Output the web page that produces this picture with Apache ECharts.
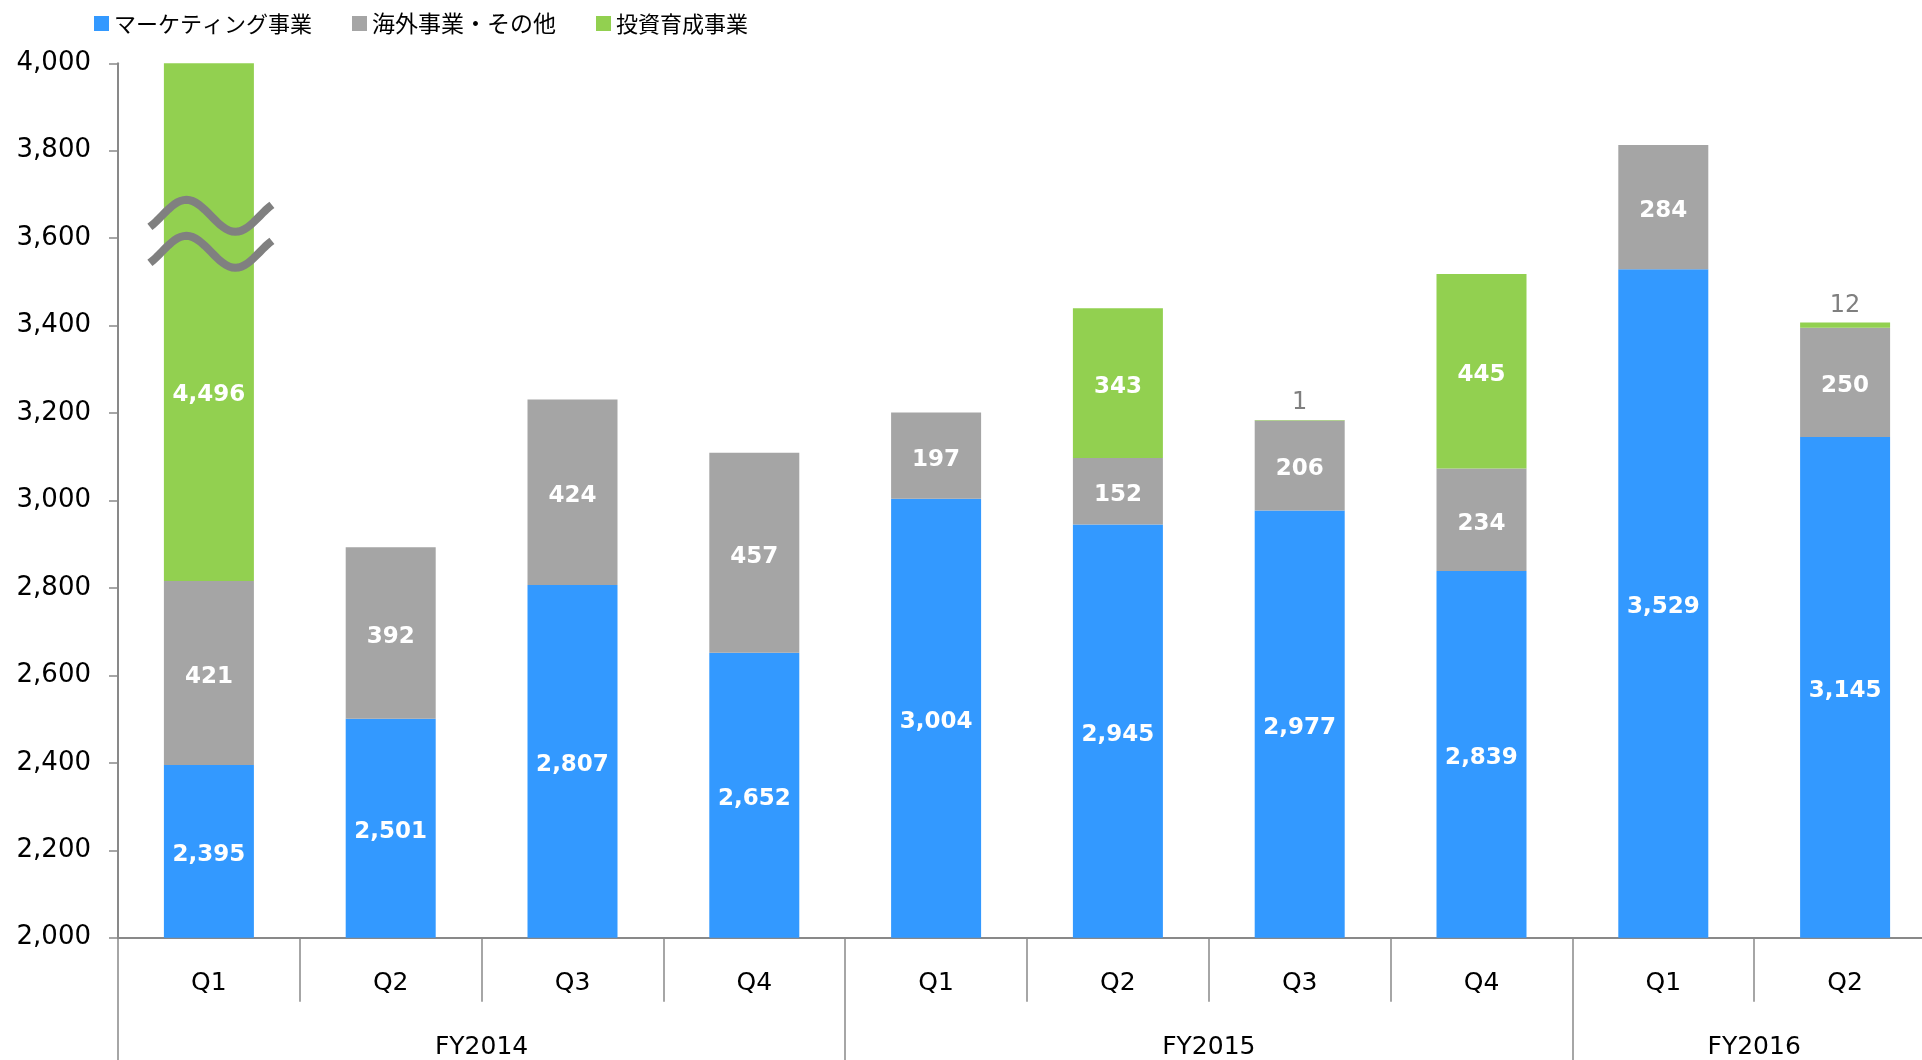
<!DOCTYPE html>
<html><head><meta charset="utf-8">
<script src="https://cdn.jsdelivr.net/npm/echarts@6/dist/echarts.min.js"></script>
<style>html,body{margin:0;padding:0;background:#fff}#c{width:1922px;height:1060px}</style>
</head><body><div id="c"></div>
<script>
// ---- data ----
const quarters = ['Q1','Q2','Q3','Q4','Q1','Q2','Q3','Q4','Q1','Q2'];
const fiscalYears = ['FY2014','FY2015','FY2016'];
const quartersPerYear = [4,4,2];
const seriesNames = ['マーケティング事業','海外事業・その他','投資育成事業'];
const marketing = [2395,2501,2807,2652,3004,2945,2977,2839,3529,3145];
const overseas = [421,392,424,457,197,152,206,234,284,250];
const investment = [4496,null,null,null,null,343,1,445,null,12];
const yMin = 2000, yMax = 4000, yInterval = 200;

// ---- derived ----
const groupBounds = [0];
quartersPerYear.forEach(n => groupBounds.push(groupBounds[groupBounds.length-1] + n));
const groupCenters = quartersPerYear.map((n,i) => groupBounds[i] + n/2);
const fmt = v => Number(v).toLocaleString('en-US');

const FONT = '"DejaVu Sans", Verdana, sans-serif';
const colors = ['#3399FF','#A5A5A5','#92D050'];
const insideLabel = {show:true, position:'inside', offset:[0,4], color:'#fff', fontFamily:FONT, fontWeight:'bold', fontSize:23,
  formatter: p => (p.value == null ? '' : fmt(p.value))};

const invData = investment.map((v,i) => {
  if (v == null) return null;
  const total = marketing[i] + overseas[i] + v;
  if (v < 50) return {value:v, label:{position:'top', offset:[0,0], distance:5, color:'#7F7F7F', fontWeight:'normal', fontSize:24}};
  if (total > yMax) return {value:v, label:{offset:[0,73]}};
  return v;
});

const chart = echarts.init(document.getElementById('c'));
chart.setOption({
  animation:false,
  color: colors,
  legend:{
    left:94, top:12, padding:0, itemWidth:15, itemHeight:15, itemGap:40, icon:'rect',
    textStyle:{fontFamily:'"Noto Sans CJK JP", sans-serif', fontSize:22, color:'#000'},
    data: [seriesNames[0], {name:seriesNames[1], textStyle:{fontSize:23}}, seriesNames[2]]
  },
  grid:{left:118, top:63.3, width:1818, height:874.4, containLabel:false, outerBoundsMode:'none'},
  xAxis:[{
    type:'category', data:quarters, boundaryGap:true,
    axisLine:{show:true, lineStyle:{color:'#898989', width:2}},
    axisTick:{show:true, length:64, lineStyle:{color:'#898989', width:1.5}},
    axisLabel:{color:'#000', fontFamily:FONT, fontSize:25, margin:33, interval:0}
  },{
    type:'value', min:0, max:groupBounds[groupBounds.length-1], position:'bottom',
    axisLine:{show:false}, splitLine:{show:false},
    axisTick:{show:true, length:125, customValues:groupBounds.slice(0,-1), lineStyle:{color:'#898989', width:1.5}},
    axisLabel:{show:true, customValues:groupCenters, color:'#000', fontFamily:FONT, fontSize:25, margin:97,
      formatter: v => fiscalYears[groupCenters.indexOf(v)] || ''}
  }],
  yAxis:{
    type:'value', min:yMin, max:yMax, interval:yInterval,
    axisLine:{show:true, lineStyle:{color:'#898989', width:2}},
    axisTick:{show:true, length:9, lineStyle:{color:'#898989', width:1.5}},
    splitLine:{show:false},
    axisLabel:{color:'#000', fontFamily:FONT, fontSize:26, margin:27, formatter: v => fmt(v)}
  },
  series:[
    {name:seriesNames[0], type:'bar', stack:'s', barWidth:90, data:marketing, label:insideLabel, xAxisIndex:0},
    {name:seriesNames[1], type:'bar', stack:'s', barWidth:90, data:overseas, label:insideLabel, xAxisIndex:0},
    {name:seriesNames[2], type:'bar', stack:'s', barWidth:90, data:invData, label:insideLabel, xAxisIndex:0}
  ]
});

// axis-break decoration (≈) drawn over the clipped bar
const brokenIdx = investment.findIndex((v,i) => v != null && marketing[i]+overseas[i]+v > yMax);
if (brokenIdx >= 0) {
  const p = chart.convertToPixel({xAxisIndex:0, yAxisIndex:0}, [brokenIdx, 3610]);
  const wavePts = dy => {
    const pts = [];
    const a0 = -0.76, a1 = 2*Math.PI + 0.76, half = 61, amp = 16;
    for (let k = 0; k <= 40; k++) {
      const a = a0 + (a1 - a0) * k / 40;
      pts.push([-half + 2*half*k/40, dy - amp*Math.sin(a)]);
    }
    return pts;
  };
  const wave = dy => ({type:'polyline', z:100, shape:{points:wavePts(dy)},
    style:{stroke:'#808080', lineWidth:8, fill:null}});
  chart.setOption({graphic:[{type:'group', x:p[0]+2, y:p[1], z:100, children:[wave(-18), wave(18)]}]});
}
</script></body></html>
